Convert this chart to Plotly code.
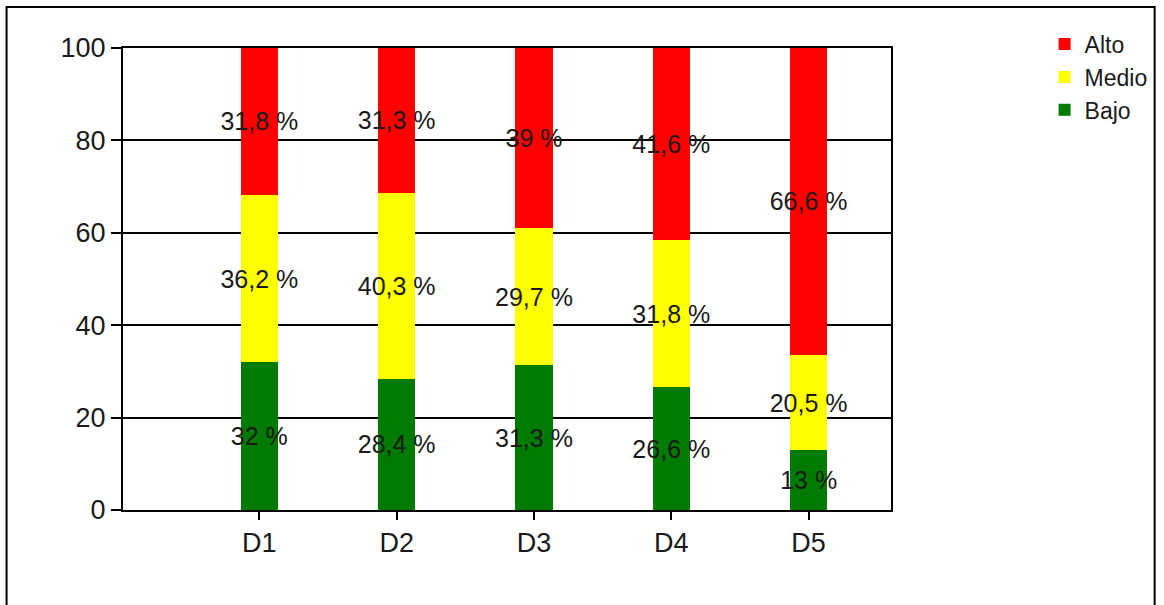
import plotly.graph_objects as go

categories = ["D1", "D2", "D3", "D4", "D5"]
bajo = [32, 28.4, 31.3, 26.6, 13]
medio = [36.2, 40.3, 29.7, 31.8, 20.5]
alto = [31.8, 31.3, 39, 41.6, 66.6]
y_ticks = [0, 20, 40, 60, 80, 100]

def labels(vals):
    return [f"{v:g}".replace(".", ",") + " %" for v in vals]

FONT = "Liberation Sans, Arial, sans-serif"
fig = go.Figure()
for name, vals, color in [("Bajo", bajo, "#007A00"), ("Medio", medio, "#FFFF00"), ("Alto", alto, "#FF0000")]:
    fig.add_trace(go.Bar(
        x=categories, y=vals, name=name, marker=dict(color=color, line=dict(width=0)),
        width=0.27, text=labels(vals), textposition="inside", insidetextanchor="middle",
        textangle=0, constraintext="none",
        textfont=dict(color="#1a1a1a", size=25, family=FONT),
    ))

fig.update_layout(
    barmode="stack",
    width=1164, height=605,
    margin=dict(l=123, r=269, t=48, b=95),
    paper_bgcolor="white", plot_bgcolor="white",
    font=dict(family=FONT, size=25, color="#1a1a1a"),
    showlegend=True,
    legend=dict(x=1.2, y=1.055, xanchor="left", yanchor="top", traceorder="reversed",
                font=dict(size=23, color="#1a1a1a"), bgcolor="rgba(0,0,0,0)",
                tracegroupgap=0),
    uniformtext=dict(mode=False),
    xaxis=dict(range=[-0.993, 4.60], showline=True, linecolor="black", linewidth=2, mirror=True,
               ticks="outside", ticklen=8, tickwidth=2, tickcolor="black", showgrid=False,
               tickfont=dict(size=27)),
    yaxis=dict(range=[0, 100], tickvals=y_ticks, showline=True, linecolor="black", linewidth=2, mirror=True,
               ticks="outside", ticklen=10, tickwidth=2, tickcolor="black",
               showgrid=True, gridcolor="black", gridwidth=2, zeroline=False,
               tickfont=dict(size=27)),
    shapes=[dict(type="rect", xref="paper", yref="paper", x0=-0.1516, x1=1.3433, y0=-0.25, y1=1.0887,
                 line=dict(color="black", width=2), fillcolor="rgba(0,0,0,0)")],
)
fig.write_html("out.html", config={"displayModeBar": False},
               post_script="document.body.style.margin='0';document.body.style.overflow='hidden';")
